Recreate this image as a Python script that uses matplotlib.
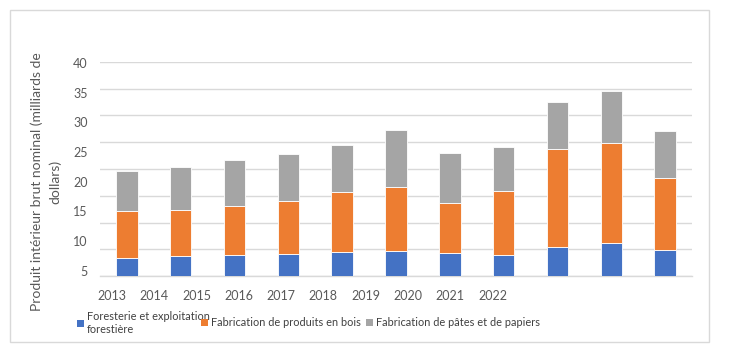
# PIB nominal du secteur forestier

import numpy as np
import matplotlib.pyplot as plt
from matplotlib.patches import Rectangle, Patch

plt.rcParams['font.family'] = ['Lato', 'DejaVu Sans']

# donnees
annees = ['2013', '2014', '2015', '2016', '2017', '2018', '2019', '2020', '2021', '2022', '2023']
foresterie = [3.4, 3.7, 4.0, 4.05, 4.55, 4.75, 4.25, 4.0, 5.35, 6.25, 4.9]
produits_bois = [8.8, 8.7, 9.0, 10.0, 11.1, 11.95, 9.35, 11.95, 18.45, 18.65, 13.35]
pates_papiers = [7.4, 7.9, 8.6, 8.7, 8.85, 10.5, 9.35, 8.1, 8.8, 9.7, 8.85]

# etiquettes des axes telles qu'affichees
etiq_x = ['2013', '2014', '2015', '2016', '2017', '2018', '2019', '2020', '2021', '2022']
etiq_y = ['5', '10', '15', '20', '25', '30', '35', '40']

noms = ['Foresterie et exploitation\nforestière',
        'Fabrication de produits en bois',
        'Fabrication de pâtes et de papiers']
couleurs = ['#4472C4', '#ED7D31', '#A5A5A5']

fig = plt.figure(figsize=(7.32, 3.52), dpi=100)
ax = fig.add_axes([100/732, 1-276/352, 592/732, 214/352])

x = np.arange(len(annees))
bas = np.zeros(len(annees))
for serie, c in zip([foresterie, produits_bois, pates_papiers], couleurs):
    ax.bar(x, serie, 0.4, bottom=bas, color=c, edgecolor='white', linewidth=0.6, zorder=3)
    bas = bas + np.array(serie)

ax.set_xlim(-0.5, len(annees) - 0.5)
ax.set_ylim(0, 40)

# mrizka (minor ticks) - popisky os jsou posunute jako v originalu
ax.set_yticks(np.arange(0, 41, 5), minor=True)
ax.grid(True, which='minor', axis='y', color='#D9D9D9', linewidth=1, zorder=0)
ax.tick_params(axis='y', which='minor', length=0)

pos_y = 1.0 + 5.54 * np.arange(len(etiq_y))
ax.set_yticks(pos_y)
ax.set_yticklabels(etiq_y)
ax.tick_params(axis='y', which='major', length=0, pad=9, labelsize=9, labelcolor='#595959')

pos_x = -0.28 + 0.786 * np.arange(len(etiq_x))
ax.set_xticks(pos_x)
ax.set_xticklabels(etiq_x)
ax.tick_params(axis='x', length=0, pad=10, labelsize=9, labelcolor='#595959')

for s in ['top', 'right', 'left']:
    ax.spines[s].set_visible(False)
ax.spines['bottom'].set_color('#D9D9D9')
ax.spines['bottom'].set_linewidth(1)

fig.text(46/732, 1-182/352, 'Produit intérieur brut nominal (milliards de\ndollars)',
         rotation=90, ha='center', va='center', fontsize=10, color='#595959', linespacing=1.55)

# legenda - kazda polozka zvlast, jako v originalu
leg_x = [77, 201, 366]
for nom, c, lx in zip(noms, couleurs, leg_x):
    leg = fig.legend([Patch(facecolor=c)], [nom], loc='center left',
                     bbox_to_anchor=(lx/732, 1-323/352), frameon=False, fontsize=7.9,
                     handlelength=0.6, handleheight=0.6, handletextpad=0.3,
                     borderaxespad=0, borderpad=0)
    for t in leg.get_texts():
        t.set_color('#404040')

# ramecek grafu
fig.patches.append(Rectangle((10/732, 1-341.7/352), 699.3/732, 332/352,
                             transform=fig.transFigure, fill=False,
                             edgecolor='#D9D9D9', linewidth=1))

fig.savefig('out.png', dpi=100)
